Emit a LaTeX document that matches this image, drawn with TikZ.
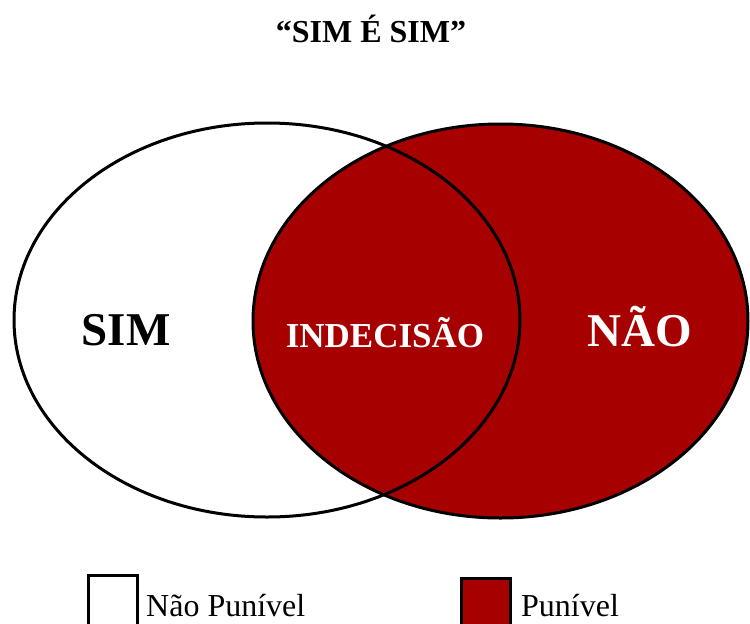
\documentclass[tikz,border=0pt]{standalone}
\usepackage{fontspec}
\setmainfont{Liberation Serif}
\definecolor{darkred}{RGB}{166,0,0}
\begin{document}
\begin{tikzpicture}[x=1pt,y=-1pt,
  outline/.style={draw=black,line width=3pt},
  boxstyle/.style={draw=black,line width=2.5pt,minimum width=49pt,minimum height=60pt,inner sep=0pt,anchor=north west},
  bigtxt/.style={font=\bfseries\fontsize{47}{50}\selectfont,inner sep=0pt,anchor=base},
  legtxt/.style={font=\fontsize{32}{34}\selectfont,inner sep=0pt,anchor=base west}]
\useasboundingbox (0,0) rectangle (750,624);
\fill[white] (0,0) rectangle (750,624);
% ellipses
\fill[darkred] (500.5,321) ellipse [x radius=247.5, y radius=197];
\draw[outline] (500.5,321) ellipse [x radius=247.5, y radius=197];
\draw[outline] (267,320) ellipse [x radius=253, y radius=197];
% title
\node[font=\bfseries\fontsize{32}{34}\selectfont,inner sep=0pt,anchor=base] (title) at (371,42) {“SIM É SIM”};
% labels
\node[bigtxt] (sim) at (126,345) {SIM};
\node[font=\bfseries\fontsize{35}{37}\selectfont,inner sep=0pt,anchor=base,text=white] (indec) at (385,347) {INDECISÃO};
\node[bigtxt,text=white] (nao) at (639.5,346) {NÃO};
% legend
\node[boxstyle,fill=white] (box1) at (87.25,574.25) {};
\node[legtxt] (leg1) at (146,616) {Não Punível};
\node[boxstyle,fill=darkred] (box2) at (460.25,577.25) {};
\node[legtxt] (leg2) at (521,616) {Punível};
\end{tikzpicture}
\end{document}
